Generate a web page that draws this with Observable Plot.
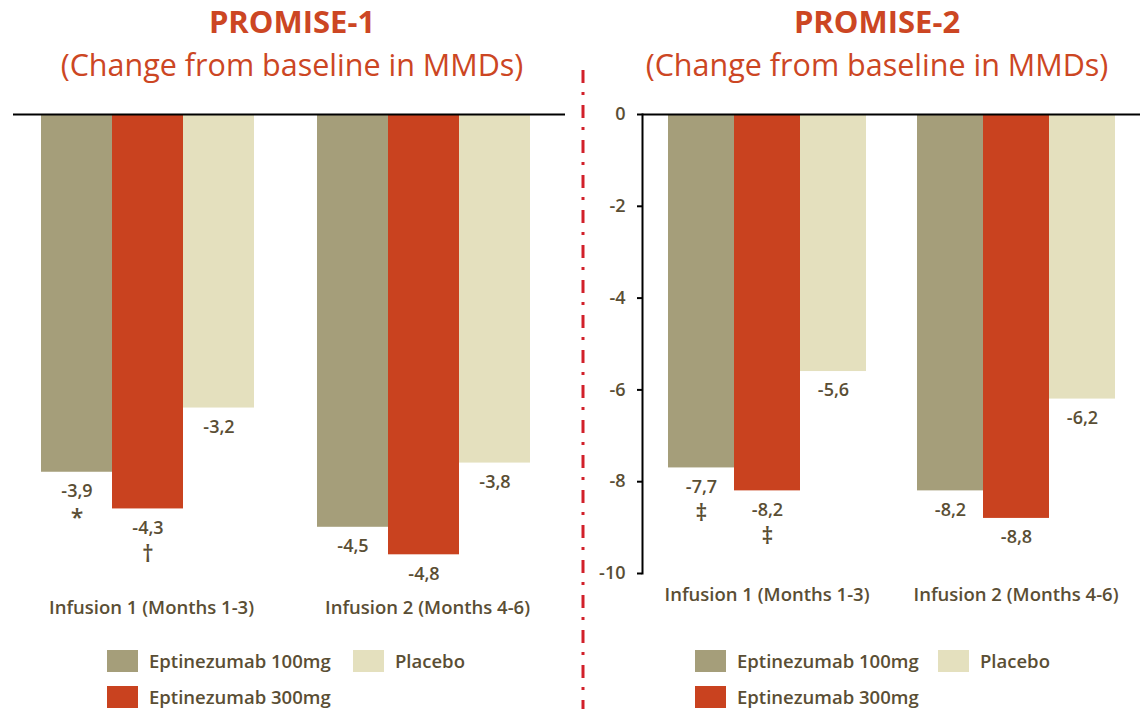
<!DOCTYPE html>
<html><head><meta charset="utf-8">
<script src="https://cdn.jsdelivr.net/npm/d3@7"></script>
<script src="https://cdn.jsdelivr.net/npm/@observablehq/plot@0.6"></script>
<style>
body{margin:0;background:#fff;font-family:"Open Sans",sans-serif;}
#wrap{position:relative;width:1140px;height:709px;overflow:hidden;background:#fff;}
.panel{position:absolute;top:0;width:570px;}
.title{height:90px;text-align:center;color:#CC4623;line-height:43px;box-sizing:border-box;}
.title .t1{font-weight:700;font-size:31px;}
.title .t2{font-size:30.5px;}
.legend{display:grid;grid-auto-rows:36px;padding-top:12px;color:#5A4E34;font-size:18.5px;font-weight:600;}
.item{display:flex;align-items:center;white-space:nowrap;line-height:22px;}
.sw{width:31px;height:22px;margin-right:11px;flex:none;}
#divider{position:absolute;left:581px;top:0;}
svg text{font-weight:600;}
</style>
</head><body>
<div id="wrap">
  <div class="panel" id="p1" style="left:0"></div>
  <div class="panel" id="p2" style="left:570px"></div>
  <svg id="divider" width="4" height="709"><line x1="2" x2="2" y1="70" y2="709" stroke="#D2202A" stroke-width="3" stroke-dasharray="13 9 3 10"/></svg>
</div>
<script>
const groups = ["Infusion 1 (Months 1-3)", "Infusion 2 (Months 4-6)"];
const series = ["Eptinezumab 100mg", "Eptinezumab 300mg", "Placebo"];
const colors = ["#A59E7A", "#C9421F", "#E4E0BE"];
const titles = ["PROMISE-1", "PROMISE-2"];
const subtitle = "(Change from baseline in MMDs)";
const promise1Values = [[-3.9, -4.3, -3.2], [-4.5, -4.8, -3.8]];
const promise1Signs  = [["*", "†", ""], ["", "", ""]];
const promise2Values = [[-7.7, -8.2, -5.6], [-8.2, -8.8, -6.2]];
const promise2Signs  = [["‡", "‡", ""], ["", "", ""]];
const yTicks2 = [0, -2, -4, -6, -8, -10];
const textColor = "#5A4E34";

function rowsOf(values, signs) {
  const rows = [];
  groups.forEach((g, gi) => series.forEach((s, si) => {
    const v = values[gi][si];
    rows.push({group: g, series: s, value: v, label: String(v).replace(".", ","), sign: signs[gi][si]});
  }));
  return rows;
}

function panel(el, title, rows, opt) {
  const t = document.createElement("div");
  t.className = "title";
  t.style.paddingLeft = opt.titleShift + "px";
  t.innerHTML = `<div class="t1">${title}</div><div class="t2">${subtitle}</div>`;
  el.appendChild(t);
  const marks = [
    Plot.barY(rows, {fx: "group", x: "series", y: "value", fill: "series"}),
    Plot.ruleY([0], {stroke: "#000", strokeWidth: 2}),
    Plot.text(rows, {fx: "group", x: "series", y: "value", text: "label", dy: 19, fontSize: 18, fill: textColor}),
    Plot.text(rows.filter(d => d.sign), {fx: "group", x: "series", y: "value", text: "sign", dy: 46, fontSize: 23, fontWeight: 400, fill: textColor}),
    Plot.axisFx({anchor: "bottom", tickSize: 0, tickPadding: opt.fxPad, label: null, fontSize: 18.5, fill: textColor})
  ];
  if (opt.yAxis) {
    marks.push(
      Plot.axisY({ticks: yTicks2, tickFormat: d => String(d), tickSize: 5, tickPadding: 12, stroke: "#000", strokeWidth: 2, fill: textColor, fontSize: 18, label: null}),
      Plot.frame({anchor: "left", facetAnchor: "left", stroke: "#000", strokeWidth: 2})
    );
  }
  const chart = Plot.plot({
    width: 570, height: 541,
    marginTop: 24, marginBottom: opt.marginBottom, marginLeft: opt.marginLeft, marginRight: opt.marginRight,
    style: {fontFamily: "Open Sans", fontSize: "18.5px", color: textColor, background: "transparent", overflow: "visible"},
    fx: {domain: groups, paddingInner: 0, paddingOuter: 0, label: null},
    x: {domain: series, paddingInner: 0, paddingOuter: opt.xPad, align: opt.xAlign, axis: null},
    y: {domain: opt.yDomain, axis: null},
    color: {domain: series, range: colors},
    marks
  });
  el.appendChild(chart);
  const lg = document.createElement("div");
  lg.className = "legend";
  lg.style.paddingLeft = opt.legendLeft + "px";
  lg.style.gridTemplateColumns = `${opt.legendCol}px auto`;
  [0, 2, 1].forEach(i => {
    const it = document.createElement("div");
    it.className = "item";
    it.innerHTML = `<span class="sw" style="background:${colors[i]}"></span><span>${series[i]}</span>`;
    lg.appendChild(it);
  });
  el.appendChild(lg);
}

panel(document.getElementById("p1"), titles[0], rowsOf(promise1Values, promise1Signs), {
  yDomain: [-5.2, 0], marginLeft: 13, marginRight: 5, marginBottom: 40, fxPad: 9,
  xPad: 0.4167, xAlign: 0.44, yAxis: false, legendLeft: 107, legendCol: 246, titleShift: 14
});
panel(document.getElementById("p2"), titles[1], rowsOf(promise2Values, promise2Signs), {
  yDomain: [-10, 0], marginLeft: 72, marginRight: 0, marginBottom: 58, fxPad: 14,
  xPad: 0.386, xAlign: 0.5, yAxis: true, legendLeft: 125, legendCol: 243, titleShift: 44
});
</script>
</body></html>
